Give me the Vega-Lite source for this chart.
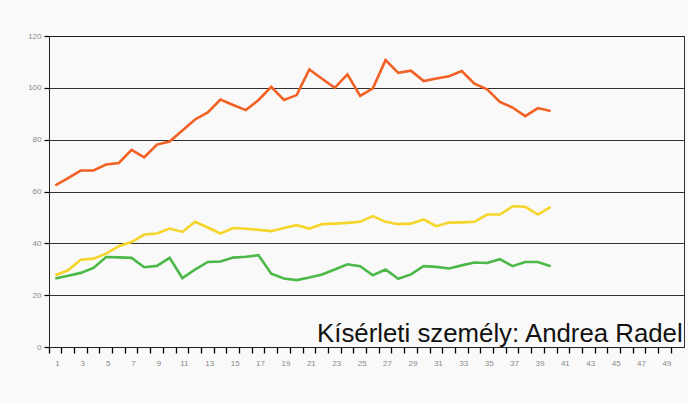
{
  "$schema": "https://vega.github.io/schema/vega-lite/v6.json",
  "width": 635,
  "height": 311,
  "autosize": "none",
  "padding": {"left": 49, "top": 36, "right": 4, "bottom": 56},
  "background": "#f9f9f9",
  "config": {
    "view": {"stroke": "#333", "strokeWidth": 1},
    "axis": {"labelFont": "Liberation Sans", "labelColor": "#8a8a8a", "labelFontSize": 8, "domainColor": "#222", "title": null}
  },
  "datasets": {
    "series": [
      {"trial":1,"s":"orange","v":62.4},{"trial":2,"s":"orange","v":65.2},{"trial":3,"s":"orange","v":68.1},{"trial":4,"s":"orange","v":68.1},{"trial":5,"s":"orange","v":70.4},{"trial":6,"s":"orange","v":71.0},{"trial":7,"s":"orange","v":76.1},{"trial":8,"s":"orange","v":73.2},{"trial":9,"s":"orange","v":78.1},{"trial":10,"s":"orange","v":79.3},
      {"trial":11,"s":"orange","v":83.5},{"trial":12,"s":"orange","v":87.8},{"trial":13,"s":"orange","v":90.5},{"trial":14,"s":"orange","v":95.5},{"trial":15,"s":"orange","v":93.4},{"trial":16,"s":"orange","v":91.4},{"trial":17,"s":"orange","v":95.3},{"trial":18,"s":"orange","v":100.4},{"trial":19,"s":"orange","v":95.3},{"trial":20,"s":"orange","v":97.2},
      {"trial":21,"s":"orange","v":107.1},{"trial":22,"s":"orange","v":103.5},{"trial":23,"s":"orange","v":100.0},{"trial":24,"s":"orange","v":105.2},{"trial":25,"s":"orange","v":96.9},{"trial":26,"s":"orange","v":99.8},{"trial":27,"s":"orange","v":110.7},{"trial":28,"s":"orange","v":105.8},{"trial":29,"s":"orange","v":106.6},{"trial":30,"s":"orange","v":102.6},
      {"trial":31,"s":"orange","v":103.6},{"trial":32,"s":"orange","v":104.5},{"trial":33,"s":"orange","v":106.5},{"trial":34,"s":"orange","v":101.6},{"trial":35,"s":"orange","v":99.4},{"trial":36,"s":"orange","v":94.6},{"trial":37,"s":"orange","v":92.4},{"trial":38,"s":"orange","v":89.1},{"trial":39,"s":"orange","v":92.2},{"trial":40,"s":"orange","v":91.1},
      {"trial":1,"s":"yellow","v":27.7},{"trial":2,"s":"yellow","v":29.6},{"trial":3,"s":"yellow","v":33.7},{"trial":4,"s":"yellow","v":34.1},{"trial":5,"s":"yellow","v":36.0},{"trial":6,"s":"yellow","v":38.9},{"trial":7,"s":"yellow","v":40.5},{"trial":8,"s":"yellow","v":43.4},{"trial":9,"s":"yellow","v":43.8},{"trial":10,"s":"yellow","v":45.7},
      {"trial":11,"s":"yellow","v":44.4},{"trial":12,"s":"yellow","v":48.3},{"trial":13,"s":"yellow","v":46.1},{"trial":14,"s":"yellow","v":43.8},{"trial":15,"s":"yellow","v":45.9},{"trial":16,"s":"yellow","v":45.6},{"trial":17,"s":"yellow","v":45.2},{"trial":18,"s":"yellow","v":44.7},{"trial":19,"s":"yellow","v":45.9},{"trial":20,"s":"yellow","v":47.0},
      {"trial":21,"s":"yellow","v":45.7},{"trial":22,"s":"yellow","v":47.4},{"trial":23,"s":"yellow","v":47.6},{"trial":24,"s":"yellow","v":47.9},{"trial":25,"s":"yellow","v":48.3},{"trial":26,"s":"yellow","v":50.5},{"trial":27,"s":"yellow","v":48.3},{"trial":28,"s":"yellow","v":47.4},{"trial":29,"s":"yellow","v":47.6},{"trial":30,"s":"yellow","v":49.2},
      {"trial":31,"s":"yellow","v":46.6},{"trial":32,"s":"yellow","v":48.0},{"trial":33,"s":"yellow","v":48.1},{"trial":34,"s":"yellow","v":48.3},{"trial":35,"s":"yellow","v":51.1},{"trial":36,"s":"yellow","v":51.1},{"trial":37,"s":"yellow","v":54.3},{"trial":38,"s":"yellow","v":54.1},{"trial":39,"s":"yellow","v":51.1},{"trial":40,"s":"yellow","v":54.1},
      {"trial":1,"s":"green","v":26.4},{"trial":2,"s":"green","v":27.5},{"trial":3,"s":"green","v":28.6},{"trial":4,"s":"green","v":30.5},{"trial":5,"s":"green","v":34.7},{"trial":6,"s":"green","v":34.6},{"trial":7,"s":"green","v":34.4},{"trial":8,"s":"green","v":30.8},{"trial":9,"s":"green","v":31.3},{"trial":10,"s":"green","v":34.4},
      {"trial":11,"s":"green","v":26.6},{"trial":12,"s":"green","v":29.9},{"trial":13,"s":"green","v":32.8},{"trial":14,"s":"green","v":33.0},{"trial":15,"s":"green","v":34.5},{"trial":16,"s":"green","v":34.8},{"trial":17,"s":"green","v":35.4},{"trial":18,"s":"green","v":28.3},{"trial":19,"s":"green","v":26.4},{"trial":20,"s":"green","v":25.8},
      {"trial":21,"s":"green","v":26.8},{"trial":22,"s":"green","v":28.0},{"trial":23,"s":"green","v":29.9},{"trial":24,"s":"green","v":31.9},{"trial":25,"s":"green","v":31.2},{"trial":26,"s":"green","v":27.7},{"trial":27,"s":"green","v":29.9},{"trial":28,"s":"green","v":26.3},{"trial":29,"s":"green","v":28.0},{"trial":30,"s":"green","v":31.2},
      {"trial":31,"s":"green","v":30.9},{"trial":32,"s":"green","v":30.3},{"trial":33,"s":"green","v":31.5},{"trial":34,"s":"green","v":32.6},{"trial":35,"s":"green","v":32.4},{"trial":36,"s":"green","v":33.9},{"trial":37,"s":"green","v":31.2},{"trial":38,"s":"green","v":32.8},{"trial":39,"s":"green","v":32.8},{"trial":40,"s":"green","v":31.2}
    ],
    "caption": [{"trial": 22, "v": 1.8, "label": "Kísérleti személy: Andrea Radel"}]
  },
  "layer": [
    {
      "data": {"name": "series"},
      "mark": {"type": "line", "strokeWidth": 2.6, "strokeJoin": "miter"},
      "encoding": {
        "x": {
          "field": "trial", "type": "ordinal",
          "scale": {"type": "band", "domain": [1,2,3,4,5,6,7,8,9,10,11,12,13,14,15,16,17,18,19,20,21,22,23,24,25,26,27,28,29,30,31,32,33,34,35,36,37,38,39,40,41,42,43,44,45,46,47,48,49,50], "paddingInner": 0, "paddingOuter": 0},
          "axis": {"bandPosition": 0, "labelAngle": 0, "labelExpr": "datum.value % 2 === 1 ? datum.label : ''", "ticks": true, "tickSize": 6, "tickColor": "black", "tickWidth": 1.3, "tickOpacity": 1, "labelPadding": 6, "labelOffset": 2, "grid": false, "domainColor": "#222"}
        },
        "y": {
          "field": "v", "type": "quantitative",
          "scale": {"domain": [0, 120], "nice": false, "zero": true},
          "axis": {"values": [0,20,40,60,80,100,120], "ticks": true, "tickSize": 5, "tickColor": "black", "tickWidth": 1.2, "labelPadding": 3, "grid": true, "gridColor": "#1a1a1a", "gridWidth": 1, "gridOpacity": 0.9}
        },
        "color": {
          "field": "s", "type": "nominal",
          "scale": {"domain": ["orange","yellow","green"], "range": ["#f26124","#f6d52b","#4cb848"]},
          "legend": null
        }
      }
    },
    {
      "data": {"name": "caption"},
      "mark": {"type": "text", "align": "left", "baseline": "alphabetic", "fontSize": 25.8, "font": "Liberation Sans", "color": "#111", "dx": -5},
      "encoding": {
        "x": {"field": "trial", "type": "ordinal"},
        "y": {"field": "v", "type": "quantitative"},
        "text": {"field": "label"}
      }
    }
  ]
}
